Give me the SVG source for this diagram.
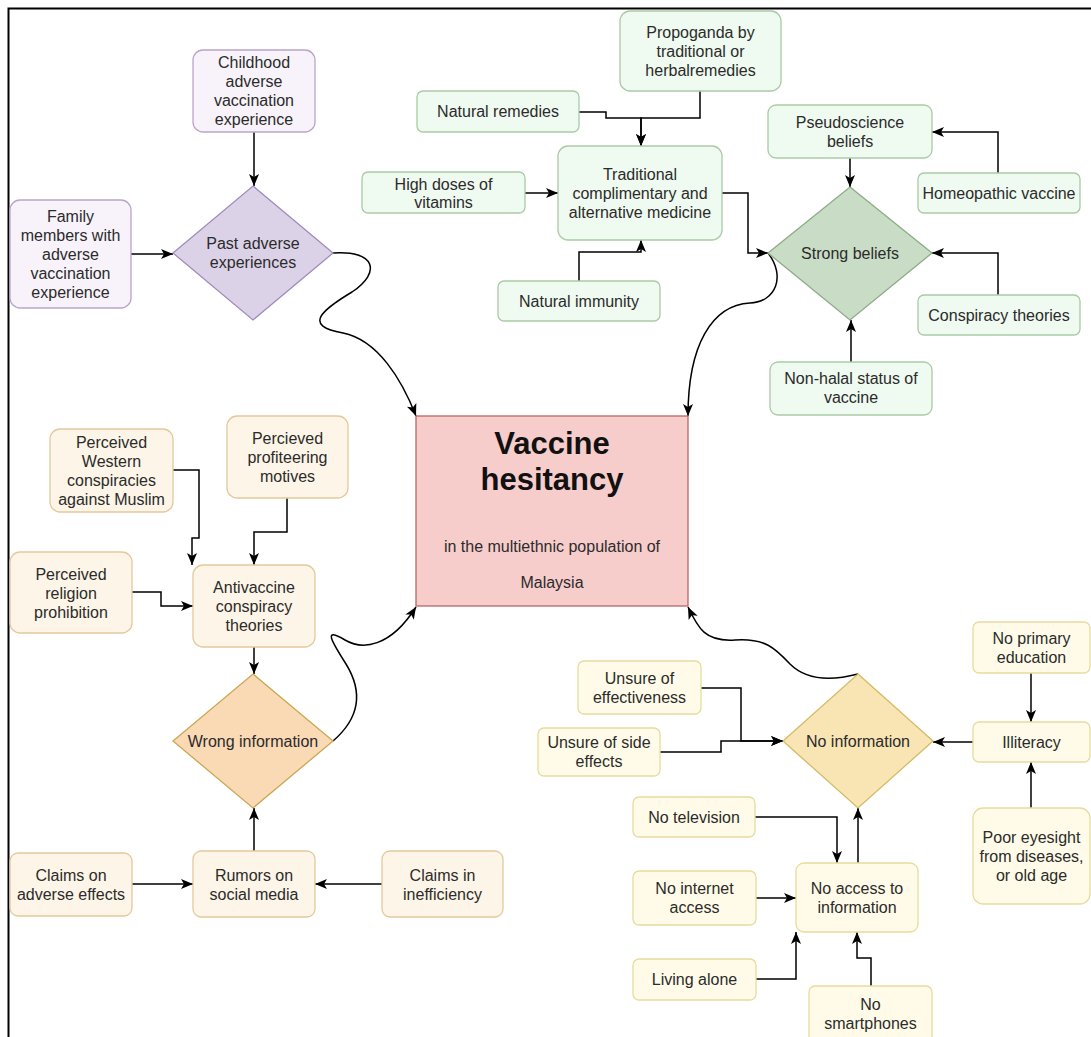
<svg xmlns="http://www.w3.org/2000/svg" width="1091" height="1037" viewBox="0 0 1091 1037">
<defs>
<marker id="arr" markerUnits="userSpaceOnUse" markerWidth="13" markerHeight="12" refX="12" refY="6" orient="auto">
<path d="M0,1 L12,6 L0,11 L3,6 z" fill="#000"/>
</marker>
<style>
text{font-family:"Liberation Sans",Arial,sans-serif;font-size:16px;fill:#2b2b2b;text-anchor:middle}
.box{stroke-width:1.3}
.pu{fill:#f8f3fa;stroke:#b9a5c9}
.pud{fill:#dcd2e8;stroke:#a08cba}
.gr{fill:#effaf0;stroke:#aacaa6}
.grd{fill:#c9dcc5;stroke:#8cac87}
.or{fill:#fdf5e7;stroke:#e3c99c}
.ord{fill:#fad9b5;stroke:#c9a852}
.ye{fill:#fffbe8;stroke:#e6dc9e}
.yed{fill:#f9e4b4;stroke:#d4bb66}
.main{fill:#f7cdcc;stroke:#b76664}
.c{fill:none;stroke:#000;stroke-width:1.5;marker-end:url(#arr)}
.t{font-weight:bold;font-size:31px;fill:#111}
</style>
</defs>
<rect width="1091" height="1037" fill="#fff"/>
<path d="M8.5,1037 V8.5 H1091" fill="none" stroke="#000" stroke-width="2"/>

<g id="connectors">
<path class="c" d="M254,132 V186"/>
<path class="c" d="M131,254 H173"/>
<path class="c" d="M333,253 C375,250 382,272 352,292 C322,310 302,326 343,333 C378,340 402,380 416,416"/>
<path class="c" d="M579,112 H606 V118 H641 V146"/>
<path class="c" d="M700,91 V118 H641 V146"/>
<path class="c" d="M525,193 H558"/>
<path class="c" d="M579,281 V252 H641 V240"/>
<path class="c" d="M722,193 H748 V253 H768"/>
<path class="c" d="M998,173 V132 H932"/>
<path class="c" d="M850,158 V187"/>
<path class="c" d="M998,295 V253 H932"/>
<path class="c" d="M851,362 V320"/>
<path class="c" d="M768,253 C786,276 776,302 750,303 C712,305 688,345 688,416"/>
<path class="c" d="M173,470 H199 V538 H192 V565"/>
<path class="c" d="M287,498 V532 H254 V565"/>
<path class="c" d="M132,592 H161 V606 H193"/>
<path class="c" d="M254,647 V674"/>
<path class="c" d="M333,741 C362,716 362,690 346,664 C332,642 322,626 345,640 C362,650 390,648 416,607"/>
<path class="c" d="M132,884 H193"/>
<path class="c" d="M382,884 H315"/>
<path class="c" d="M254,851 V808"/>
<path class="c" d="M858,674 C835,680 808,682 790,664 C775,648 765,638 735,640 C705,642 698,628 688,607"/>
<path class="c" d="M701,688 H741 V741 H783"/>
<path class="c" d="M660,752 H721 V741 H783"/>
<path class="c" d="M973,742 H933"/>
<path class="c" d="M1031,673 V722"/>
<path class="c" d="M1031,808 V762"/>
<path class="c" d="M755,817 H837 V863"/>
<path class="c" d="M858,863 V808"/>
<path class="c" d="M756,898 H796"/>
<path class="c" d="M756,979 H796 V932"/>
<path class="c" d="M871,986 V958 H857 V932"/>
</g>

<g id="childhood"><rect class="box pu" x="193" y="50" width="122" height="82" rx="10"/>
<text x="254" y="68">Childhood</text><text x="254" y="87">adverse</text><text x="254" y="106">vaccination</text><text x="254" y="125">experience</text></g>
<g id="family"><rect class="box pu" x="10" y="200" width="121" height="108" rx="10"/>
<text x="70.5" y="222">Family</text><text x="70.5" y="241">members with</text><text x="70.5" y="260">adverse</text><text x="70.5" y="279">vaccination</text><text x="70.5" y="298">experience</text></g>
<g id="past"><path class="box pud" d="M253,186 L333,253 L253,320 L173,253 z"/>
<text x="253" y="249">Past adverse</text><text x="253" y="268">experiences</text></g>

<g id="propaganda"><rect class="box gr" x="620" y="11" width="161" height="80" rx="10"/>
<text x="700.5" y="38">Propoganda by</text><text x="700.5" y="57">traditional or</text><text x="700.5" y="76">herbalremedies</text></g>
<g id="natural-remedies"><rect class="box gr" x="417" y="91" width="162" height="41" rx="6"/>
<text x="498" y="117">Natural remedies</text></g>
<g id="traditional"><rect class="box gr" x="558" y="146" width="164" height="94" rx="10"/>
<text x="640" y="180">Traditional</text><text x="640" y="199">complimentary and</text><text x="640" y="218">alternative medicine</text></g>
<g id="high-doses"><rect class="box gr" x="362" y="172" width="163" height="41" rx="6"/>
<text x="443.5" y="189.5">High doses of</text><text x="443.5" y="207.5">vitamins</text></g>
<g id="natural-immunity"><rect class="box gr" x="498" y="281" width="162" height="40" rx="6"/>
<text x="579" y="307">Natural immunity</text></g>
<g id="pseudoscience"><rect class="box gr" x="768" y="105" width="164" height="53" rx="8"/>
<text x="850" y="128">Pseudoscience</text><text x="850" y="147">beliefs</text></g>
<g id="strong"><path class="box grd" d="M850,187 L932,253 L850,320 L768,253 z"/>
<text x="850" y="258.5">Strong beliefs</text></g>
<g id="homeopathic"><rect class="box gr" x="918" y="173" width="162" height="40" rx="6"/>
<text x="999" y="198.5">Homeopathic vaccine</text></g>
<g id="conspiracy"><rect class="box gr" x="918" y="295" width="162" height="40" rx="6"/>
<text x="999" y="320.5">Conspiracy theories</text></g>
<g id="non-halal"><rect class="box gr" x="770" y="362" width="162" height="53" rx="8"/>
<text x="851" y="384">Non-halal status of</text><text x="851" y="403">vaccine</text></g>

<g id="vaccine-hesitancy"><rect class="main" x="416" y="416" width="272" height="190" stroke-width="1.3"/>
<text class="t" x="552" y="454">Vaccine</text><text class="t" x="552" y="490">hesitancy</text>
<text x="552" y="552">in the multiethnic population of</text><text x="552" y="588">Malaysia</text></g>

<g id="western"><rect class="box or" x="50" y="429" width="123" height="83" rx="10"/>
<text x="111.5" y="448">Perceived</text><text x="111.5" y="467">Western</text><text x="111.5" y="486">conspiracies</text><text x="111.5" y="505">against Muslim</text></g>
<g id="profiteering"><rect class="box or" x="227" y="416" width="121" height="82" rx="10"/>
<text x="287.5" y="444">Percieved</text><text x="287.5" y="463">profiteering</text><text x="287.5" y="482">motives</text></g>
<g id="religion"><rect class="box or" x="10" y="552" width="122" height="81" rx="10"/>
<text x="71" y="580">Perceived</text><text x="71" y="599">religion</text><text x="71" y="618">prohibition</text></g>
<g id="antivaccine"><rect class="box or" x="193" y="565" width="122" height="82" rx="10"/>
<text x="254" y="593">Antivaccine</text><text x="254" y="612">conspiracy</text><text x="254" y="631">theories</text></g>
<g id="wrong"><path class="box ord" d="M253,674 L333,741 L253,808 L173,741 z"/>
<text x="253" y="747">Wrong information</text></g>
<g id="claims-adverse"><rect class="box or" x="10" y="853" width="122" height="63" rx="8"/>
<text x="71" y="881">Claims on</text><text x="71" y="900">adverse effects</text></g>
<g id="rumors"><rect class="box or" x="193" y="851" width="122" height="66" rx="8"/>
<text x="254" y="881">Rumors on</text><text x="254" y="900">social media</text></g>
<g id="claims-in"><rect class="box or" x="382" y="851" width="121" height="66" rx="8"/>
<text x="442.5" y="881">Claims in</text><text x="442.5" y="900">inefficiency</text></g>

<g id="no-primary"><rect class="box ye" x="973" y="622" width="117" height="51" rx="6"/>
<text x="1031.5" y="643.5">No primary</text><text x="1031.5" y="662.5">education</text></g>
<g id="illiteracy"><rect class="box ye" x="973" y="722" width="117" height="40" rx="6"/>
<text x="1031.5" y="747.5">Illiteracy</text></g>
<g id="poor-eyesight"><rect class="box ye" x="973" y="808" width="117" height="96" rx="10"/>
<text x="1031.5" y="843">Poor eyesight</text><text x="1031.5" y="862">from diseases,</text><text x="1031.5" y="881">or old age</text></g>
<g id="no-information"><path class="box yed" d="M858,674 L933,741 L858,808 L783,741 z"/>
<text x="858" y="747">No information</text></g>
<g id="unsure-effectiveness"><rect class="box ye" x="578" y="661" width="123" height="53" rx="6"/>
<text x="639.5" y="683.5">Unsure of</text><text x="639.5" y="702.5">effectiveness</text></g>
<g id="unsure-side"><rect class="box ye" x="538" y="728" width="122" height="48" rx="6"/>
<text x="599" y="748">Unsure of side</text><text x="599" y="767">effects</text></g>
<g id="no-television"><rect class="box ye" x="633" y="797" width="122" height="40" rx="6"/>
<text x="694" y="822.5">No television</text></g>
<g id="no-internet"><rect class="box ye" x="633" y="871" width="123" height="54" rx="6"/>
<text x="694.5" y="894">No internet</text><text x="694.5" y="913">access</text></g>
<g id="no-access"><rect class="box ye" x="796" y="863" width="122" height="69" rx="8"/>
<text x="857" y="894">No access to</text><text x="857" y="913">information</text></g>
<g id="living-alone"><rect class="box ye" x="633" y="959" width="123" height="41" rx="6"/>
<text x="694.5" y="985">Living alone</text></g>
<g id="no-smartphones"><rect class="box ye" x="809" y="986" width="123" height="56" rx="6"/>
<text x="870.5" y="1010">No</text><text x="870.5" y="1029">smartphones</text></g>
</svg>
